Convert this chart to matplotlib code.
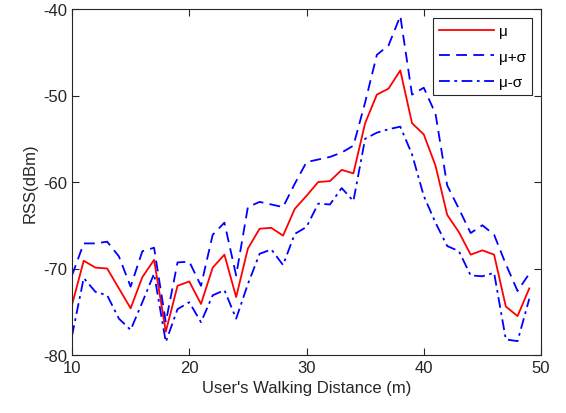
import matplotlib
matplotlib.use("Agg")
import matplotlib.pyplot as plt
import numpy as np

plt.rcParams["font.family"] = ["Liberation Sans", "DejaVu Sans"]
plt.rcParams["axes.unicode_minus"] = False

# walking distance (m)
dist = np.arange(10, 50)

mu = [-74.2, -69.1, -69.9, -70.0, -72.3, -74.6, -71.0, -69.0, -77.3, -72.0,
      -71.5, -74.1, -69.9, -68.4, -73.3, -67.7, -65.4, -65.3, -66.2, -63.1,
      -61.6, -60.0, -59.9, -58.6, -59.0, -53.2, -49.9, -49.2, -47.1, -53.2,
      -54.5, -58.1, -63.8, -65.8, -68.4, -67.9, -68.4, -74.4, -75.5, -72.3]

mu_plus = [-70.8, -67.1, -67.1, -66.9, -68.6, -72.1, -68.0, -67.6, -76.2, -69.3,
           -69.2, -72.0, -66.1, -64.7, -70.8, -62.9, -62.3, -62.6, -62.9, -60.2,
           -57.7, -57.4, -57.1, -56.6, -55.8, -50.8, -45.3, -44.2, -40.8, -49.9,
           -49.1, -52.1, -60.4, -63.1, -65.9, -65.0, -66.1, -69.5, -72.6, -70.6]

mu_minus = [-77.8, -71.1, -72.7, -73.1, -75.8, -77.1, -73.9, -70.6, -78.5, -74.7,
            -73.9, -76.2, -73.1, -72.5, -75.8, -71.8, -68.3, -67.8, -69.6, -66.0,
            -65.2, -62.5, -62.6, -60.7, -62.2, -55.0, -54.3, -53.9, -53.6, -56.8,
            -61.6, -64.7, -67.4, -68.0, -70.8, -70.9, -70.5, -78.2, -78.4, -73.5]

fig = plt.figure(figsize=(5.66, 4.14), dpi=100)
ax = fig.add_axes([72 / 566, 1 - 356 / 414, 469 / 566, 346 / 414])

ax.plot(dist, mu, color="#ff0000", lw=1.3, label="μ")
ax.plot(dist, mu_plus, color="#0000ff", lw=1.3, ls=(0, (6, 3.5)), label="μ+σ")
ax.plot(dist, mu_minus, color="#0000ff", lw=1.3, ls=(0, (6, 2.5, 1.5, 2.5)), label="μ-σ")

ax.set_xlim(10, 50)
ax.set_ylim(-80, -40)
ax.set_xticks([10, 20, 30, 40, 50])
ax.set_yticks([-80, -70, -60, -50, -40])
ax.tick_params(direction="in", top=True, right=True, labelsize=12, length=5, width=0.8,
               colors="#262626")
for s in ax.spines.values():
    s.set_color("#262626")
    s.set_linewidth(0.8)
ax.set_xlabel("User's Walking Distance (m)", fontsize=12, color="#262626")
ax.set_ylabel("RSS(dBm)", fontsize=12, color="#262626")

leg = ax.legend(loc="upper right", fontsize=11, fancybox=False, framealpha=1,
                edgecolor="#262626", handlelength=3.6, labelspacing=0.75,
                handletextpad=0.3, borderaxespad=0.6)
leg.get_frame().set_linewidth(0.8)

fig.savefig("out.png", dpi=100)
